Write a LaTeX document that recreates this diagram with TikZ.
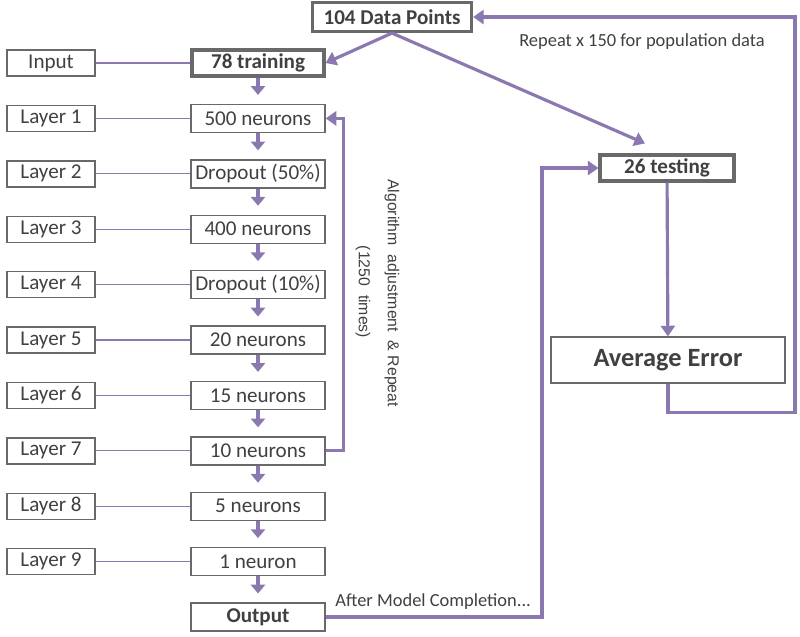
\documentclass[tikz,border=0pt]{standalone}
\usepackage{fontspec}
\setmainfont{Carlito}
\newfontfamily\sidefont{Liberation Sans}
\usetikzlibrary{arrows.meta,positioning}
\definecolor{flowpurple}{RGB}{140,120,176}
\definecolor{boxgray}{RGB}{105,105,105}
\definecolor{txtgray}{RGB}{64,64,64}

\begin{document}
\begin{tikzpicture}[node distance=1.108cm, auto]
        \tikzstyle{block} = [rectangle, draw=boxgray, line width=0.8pt, text=txtgray, text centered, minimum width=2.68cm, minimum height=0.56cm, inner sep=1pt, font=\fontsize{12}{14}\selectfont]
        \tikzstyle{layer} = [block, minimum width=1.76cm, minimum height=0.52cm]
        \tikzstyle{keyblock} = [block, line width=1.8pt, font=\fontsize{12}{14}\selectfont\bfseries]
        \tikzstyle{link} = [draw=flowpurple, line width=0.7pt]
        \tikzstyle{flow} = [draw=flowpurple, line width=1.8pt, shorten >=5pt, -{Triangle[width=8pt,length=5pt]}]
        \tikzstyle{back} = [draw=flowpurple, line width=1.8pt, -{Triangle[width=8pt,length=6pt]}]
        \tikzstyle{note} = [text=txtgray, font=\fontsize{10.5}{12}\selectfont]
        \tikzstyle{sidenote} = [text=txtgray, font=\sidefont\fontsize{9}{11}\selectfont, rotate=-90]

        \useasboundingbox (0,0) rectangle (16,-12.72);

        % network column
        \node [keyblock, minimum width=2.64cm, minimum height=0.52cm] (train) at (5.16,-1.26) {78 training};
        \node [block, below of=train] (fc1) {500 neurons};
        \node [block, below of=fc1] (drop1) {Dropout (50\%)};
        \node [block, below of=drop1] (fc2) {400 neurons};
        \node [block, below of=fc2] (drop2) {Dropout (10\%)};
        \node [block, below of=drop2] (fc3) {20 neurons};
        \node [block, below of=fc3] (fc4) {15 neurons};
        \node [block, below of=fc4] (fc5) {10 neurons};
        \node [block, below of=fc5] (fc6) {5 neurons};
        \node [block, below of=fc6] (fc7) {1 neuron};
        \node [block, below of=fc7, font=\fontsize{12}{14}\selectfont\bfseries] (output) {Output};

        % layer labels
        \node [layer, left of=train, node distance=4.14cm] (input) {Input};
        \node [layer, left of=fc1, node distance=4.14cm] (lay1) {Layer 1};
        \node [layer, left of=drop1, node distance=4.14cm] (lay2) {Layer 2};
        \node [layer, left of=fc2, node distance=4.14cm] (lay3) {Layer 3};
        \node [layer, left of=drop2, node distance=4.14cm] (lay4) {Layer 4};
        \node [layer, left of=fc3, node distance=4.14cm] (lay5) {Layer 5};
        \node [layer, left of=fc4, node distance=4.14cm] (lay6) {Layer 6};
        \node [layer, left of=fc5, node distance=4.14cm] (lay7) {Layer 7};
        \node [layer, left of=fc6, node distance=4.14cm] (lay8) {Layer 8};
        \node [layer, left of=fc7, node distance=4.14cm] (lay9) {Layer 9};

        % data split and evaluation
        \node [keyblock, minimum width=3.18cm, minimum height=0.58cm] (data) at (7.84,-0.34) {104 Data Points};
        \node [keyblock, minimum height=0.52cm] (test) at (13.34,-3.36) {26 testing};
        \node [block, minimum width=4.68cm, minimum height=0.92cm, font=\fontsize{15}{18}\selectfont\bfseries] (avg) at (13.36,-7.2) {Average Error};

        \coordinate (rc) at (15.9,-0.34);
        \coordinate (oc) at (10.84,-3.36);

        \node [note] (repeat) at (12.84,-0.84) {Repeat x 150 for population data};
        \node [note, anchor=south west] (after) at ([xshift=2pt,yshift=1pt]output.east) {After Model Completion...};
        \node [sidenote] (adjust) at (7.84,-5.86) {Algorithm\ \ adjustment\ \ \&\ Repeat};
        \node [sidenote] (times) at (7.26,-5.84) {(1250\ \ times)};

        \path [link] (input) -- (train);
        \path [link] (lay1) -- (fc1);
        \path [link] (lay2) -- (drop1);
        \path [link] (lay3) -- (fc2);
        \path [link] (lay4) -- (drop2);
        \path [link] (lay5) -- (fc3);
        \path [link] (lay6) -- (fc4);
        \path [link] (lay7) -- (fc5);
        \path [link] (lay8) -- (fc6);
        \path [link] (lay9) -- (fc7);

        \path [flow] (train) -- (fc1);
        \path [flow] (fc1) -- (drop1);
        \path [flow] (drop1) -- (fc2);
        \path [flow] (fc2) -- (drop2);
        \path [flow] (drop2) -- (fc3);
        \path [flow] (fc3) -- (fc4);
        \path [flow] (fc4) -- (fc5);
        \path [flow] (fc5) -- (fc6);
        \path [flow] (fc6) -- (fc7);
        \path [flow] (fc7) -- (output);

        \path [back] (data.south) -- (train.east);
        \path [back] (data.south) -- ([xshift=-0.44cm,yshift=0.2cm]test.north);
        \path [back] (fc5.east) -- ++(0.36,0) |- (fc1.east);
        \path [back] (test) -- (avg);
        \path [back] (avg.south) -- ++(0,-0.58) -| (rc) -- (data.east);
        \path [back] (output.east) -| (oc) -- (test.west);
    \end{tikzpicture}
\end{document}
